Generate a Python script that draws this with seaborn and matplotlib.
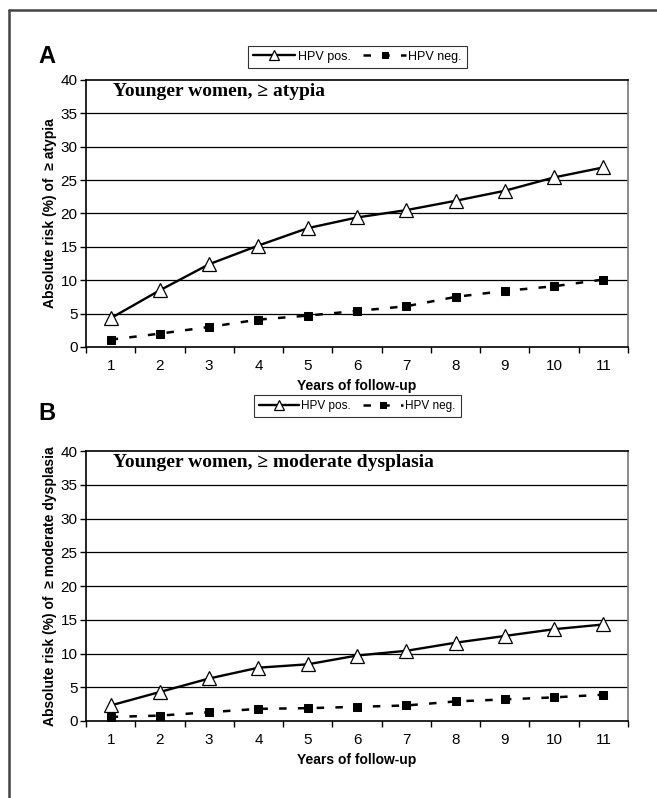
import matplotlib
matplotlib.use('Agg')
import matplotlib.pyplot as plt
import seaborn as sns
import pandas as pd
from matplotlib.lines import Line2D

sns.set_style('white')
plt.rcParams['font.family'] = ['Liberation Sans', 'DejaVu Sans']
plt.rcParams['text.color'] = 'black'
plt.rcParams['axes.labelcolor'] = 'black'
plt.rcParams['xtick.color'] = 'black'
plt.rcParams['ytick.color'] = 'black'

years = [1, 2, 3, 4, 5, 6, 7, 8, 9, 10, 11]
# panel A, >= atypia
atyp_pos = [4.3, 8.5, 12.4, 15.2, 17.8, 19.4, 20.5, 21.9, 23.4, 25.4, 26.9]
atyp_neg = [1.1, 2.0, 3.0, 4.1, 4.7, 5.4, 6.1, 7.5, 8.4, 9.1, 10.1]
# panel B, >= moderate dysplasia
dysp_pos = [2.3, 4.3, 6.3, 7.9, 8.4, 9.7, 10.4, 11.6, 12.6, 13.6, 14.3]
dysp_neg = [0.6, 0.8, 1.3, 1.8, 1.9, 2.1, 2.3, 2.9, 3.2, 3.5, 3.9]

panels = [
    ('A', 'Younger women, \u2265 atypia', 'Absolute risk (%) of  \u2265 atypia', atyp_pos, atyp_neg),
    ('B', 'Younger women, \u2265 moderate dysplasia', 'Absolute risk (%) of  \u2265 moderate dysplasia', dysp_pos, dysp_neg),
]

fig = plt.figure(figsize=(6.57, 7.98), dpi=100)
axA = fig.add_axes([0.1309, 0.5652, 0.825, 0.3346])
axB = fig.add_axes([0.1309, 0.0965, 0.825, 0.3383])
letter_y = [0.929, 0.482]
leg_y = [0.929, 0.491]
leg_fs = [9, 8.5]

for ax, (letter, title, ylab, pos, neg), ly, lgy, lfs in zip([axA, axB], panels, letter_y, leg_y, leg_fs):
    df = pd.DataFrame({'year': years * 2,
                       'risk': pos + neg,
                       'group': ['HPV pos.'] * 11 + ['HPV neg.'] * 11})
    sns.lineplot(data=df[df.group == 'HPV pos.'], x='year', y='risk', ax=ax,
                 color='black', lw=1.7, marker='^', markersize=10.5,
                 markerfacecolor='white', markeredgecolor='black', markeredgewidth=0.9,
                 label='HPV pos.', zorder=4)
    sns.lineplot(data=df[df.group == 'HPV neg.'], x='year', y='risk', ax=ax,
                 color='black', lw=1.8, marker='s', markersize=5.5,
                 markeredgecolor='black', label='HPV neg.', zorder=4)
    ax.lines[1].set_dashes([3, 4.5])
    ax.set_xlim(0.5, 11.5)
    ax.set_ylim(0, 40)
    ax.set_yticks(range(0, 41, 5))
    ax.set_xticks(years)
    ax.set_xticks([y + 0.5 for y in range(0, 12)], minor=True)
    ax.tick_params(axis='x', which='major', length=0, labelsize=11, pad=9)
    ax.tick_params(axis='x', which='minor', length=4, width=1, direction='out', color='black', bottom=True)
    ax.tick_params(axis='y', length=4, width=1, direction='out', color='black', left=True, labelsize=11, pad=2)
    for yv in range(5, 40, 5):
        ax.axhline(yv, color='black', lw=0.9, zorder=1)
    for s in ['top', 'left', 'bottom']:
        ax.spines[s].set_color('black')
        ax.spines[s].set_linewidth(1.2)
    ax.spines['right'].set_color('#777777')
    ax.spines['right'].set_linewidth(1.2)
    ax.set_xlabel('Years of follow-up', fontsize=10, fontweight='bold', labelpad=4)
    ax.set_ylabel(ylab, fontsize=10, fontweight='bold', labelpad=3)
    ax.text(0.05, 0.99, title, transform=ax.transAxes, va='top', ha='left',
            fontsize=14, fontweight='bold', family=['Liberation Serif', 'DejaVu Serif'])
    leg = ax.legend(loc='center', bbox_to_anchor=(0.544, lgy), bbox_transform=fig.transFigure,
                    ncol=2, fontsize=lfs, frameon=True, fancybox=False, handlelength=3.4,
                    columnspacing=1.0, handletextpad=0.2, borderpad=0.4, borderaxespad=0)
    leg.get_frame().set_edgecolor('black')
    leg.get_frame().set_linewidth(0.8)
    for h in leg.legend_handles:
        h.set_markersize(h.get_markersize() * 0.7)
    fig.text(0.058, ly, letter, fontsize=17, fontweight='bold', ha='left', va='center')

# outer frame (only top and left edges visible)
fig.add_artist(Line2D([9 / 657, 9 / 657], [0, 1 - 10 / 798], transform=fig.transFigure, color='#444444', lw=1.8))
fig.add_artist(Line2D([9 / 657, 1], [1 - 10 / 798, 1 - 10 / 798], transform=fig.transFigure, color='#444444', lw=1.8))

fig.savefig('out.png', dpi=100)
